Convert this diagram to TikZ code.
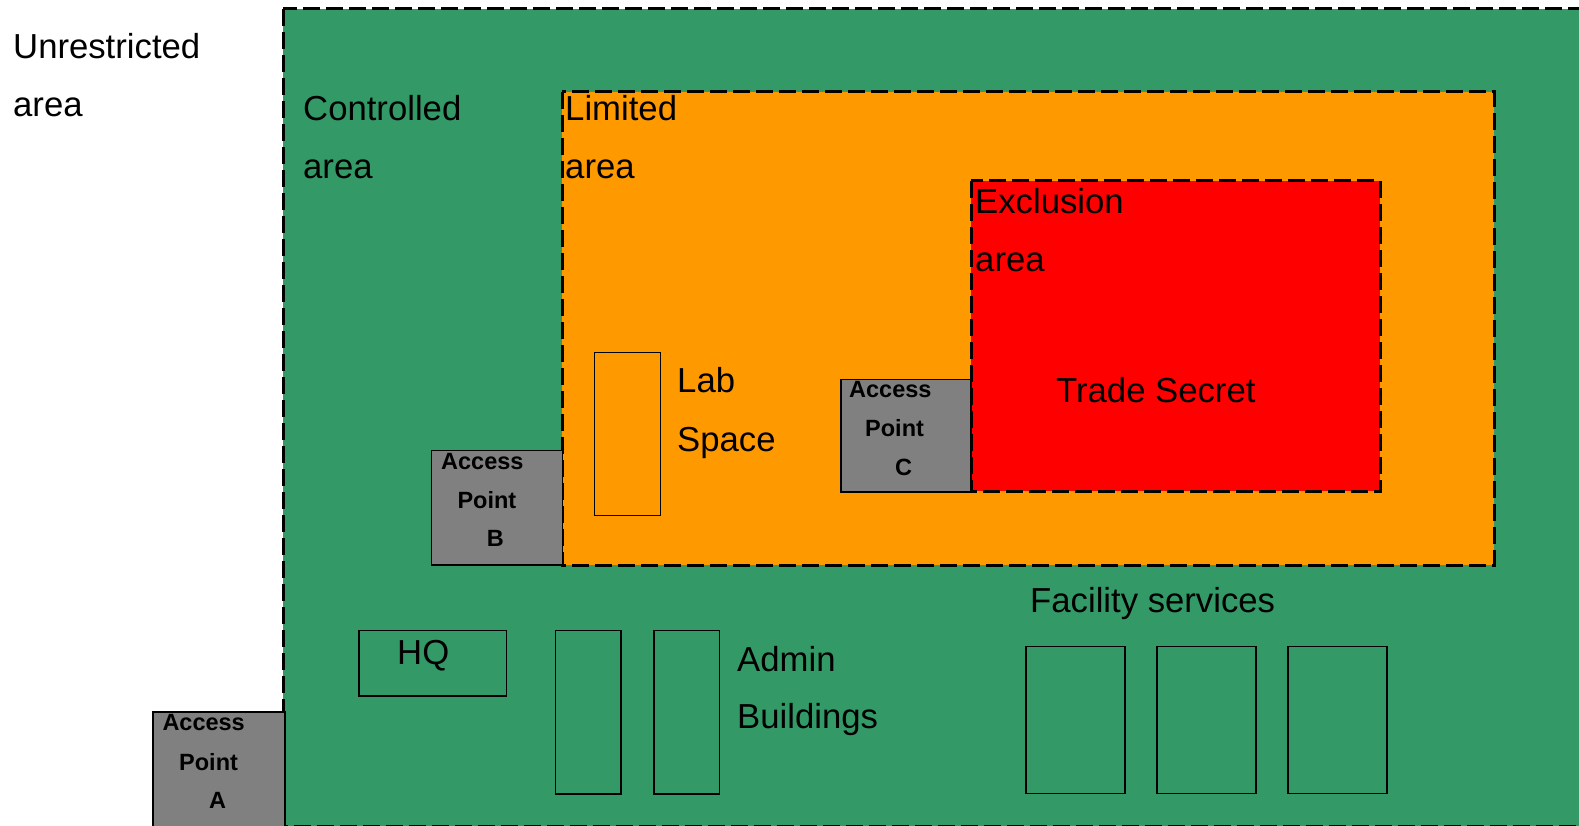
\documentclass[tikz,border=0pt]{standalone}
\usepackage{fontspec}
\setmainfont{Liberation Sans}
\definecolor{ctrlgreen}{HTML}{339966}
\definecolor{limorange}{HTML}{FF9900}
\definecolor{exred}{HTML}{FF0000}
\definecolor{apgray}{HTML}{808080}
\begin{document}
\begin{tikzpicture}[x=1pt,y=-1pt,
  zone/.style={draw=black, line width=3pt, dash pattern=on 17pt off 6pt},
  bldg/.style={draw=black, line width=1.4pt},
  gate/.style={draw=black, line width=1.4pt, fill=apgray},
  lbl/.style={anchor=base west, inner sep=0pt, font=\fontsize{34.7}{40}\selectfont},
  aplbl/.style={anchor=base west, inner sep=0pt, font=\bfseries\fontsize{23.5}{28}\selectfont}]
\useasboundingbox (0,0) rectangle (1579,826);
\clip (0,0) rectangle (1579,826);
\fill[white] (0,0) rectangle (1579,826);
% zones
\draw[zone, fill=ctrlgreen] (283,9) rectangle (1600,826.5);
\draw[zone, fill=limorange] (562,92) rectangle (1494,565);
\draw[zone, fill=exred] (971,181) rectangle (1380,491);
% buildings
\draw[bldg] (594.5,352.5) rectangle (660.5,515.5);
\draw[bldg] (359,630.5) rectangle (506.5,696);
\draw[bldg] (555.5,630.5) rectangle (621,794);
\draw[bldg] (654,630.5) rectangle (719.5,794);
\draw[bldg] (1026,646.5) rectangle (1125,793.5);
\draw[bldg] (1157,646.5) rectangle (1256,793.5);
\draw[bldg] (1288,646.5) rectangle (1387,793.5);
% access points
\draw[gate] (153,712) rectangle (285,840);
\draw[gate] (431.5,450.5) rectangle (562.5,565);
\draw[gate] (841,379.5) rectangle (971,492);
% zone labels
\node[lbl] (u1) at (13,58.3) {Unrestricted};
\node[lbl] (u2) at (13,116.7) {area};
\node[lbl] (c1) at (303,120.7) {Controlled};
\node[lbl] (c2) at (303,179) {area};
\node[lbl] (l1) at (565,120.7) {Limited};
\node[lbl] (l2) at (565,179) {area};
\node[lbl] (e1) at (975,213.4) {Exclusion};
\node[lbl] (e2) at (975,271.8) {area};
\node[lbl] (ts) at (1056,402.7) {Trade Secret};
\node[lbl] (ls1) at (677,392.7) {Lab};
\node[lbl] (ls2) at (677,451) {Space};
\node[lbl] (hq) at (397,664.3) {HQ};
\node[lbl] (ad1) at (737,671) {Admin};
\node[lbl] (ad2) at (737,728.3) {Buildings};
\node[lbl] (fs) at (1030,612) {Facility services};
% access point labels
\node[aplbl] (a1) at (162.3,730.7) {Access};
\node[aplbl] (a2) at (179,770) {Point};
\node[aplbl] (a3) at (209,808.3) {A};
\node[aplbl] (b1) at (441,469) {Access};
\node[aplbl] (b2) at (457.3,508.3) {Point};
\node[aplbl] (b3) at (486.7,546.7) {B};
\node[aplbl] (k1) at (849,397) {Access};
\node[aplbl] (k2) at (865,436.4) {Point};
\node[aplbl] (k3) at (895,475.6) {C};
\end{tikzpicture}
\end{document}
